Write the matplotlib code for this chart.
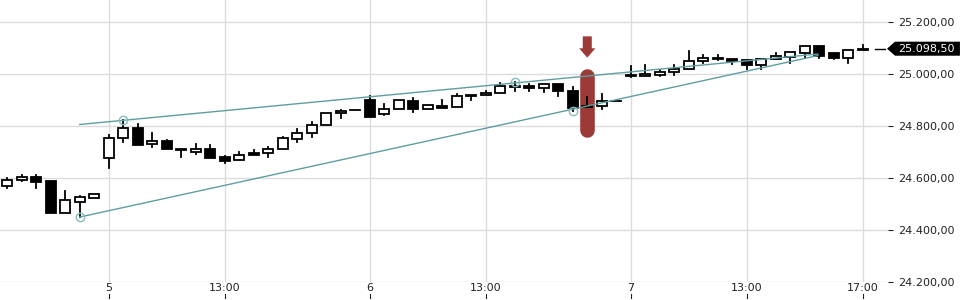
import matplotlib
matplotlib.use("Agg")
import matplotlib.pyplot as plt
from matplotlib.patches import Rectangle, Polygon

# 30-minute candles, index based x axis
opens = [24569, 24592, 24605, 24590, 24468, 24508, 24523, 24677, 24754, 24793,
         24731, 24743, 24712, 24701, 24712, 24681, 24669, 24698, 24696, 24712,
         24750, 24773, 24804, 24850, 24862, 24901, 24846, 24865, 24897, 24865,
         24878, 24873, 24917, 24919, 24927, 24952, 24956, 24948, 24963, 24935,
         24878, 24877, 24897, 24998, 24993, 24997, 25007, 25022, 25050, 25061,
         25059, 25054, 25037, 25059, 25067, 25082, 25110, 25081, 25063, 25092]
highs = [24600, 24612, 24612, 24590, 24551, 24533, 24538, 24767, 24826, 24808,
         24774, 24747, 24712, 24732, 24728, 24685, 24700, 24709, 24720, 24759,
         24790, 24817, 24850, 24863, 24862, 24917, 24886, 24901, 24908, 24881,
         24900, 24923, 24922, 24936, 24967, 24972, 24963, 24962, 24963, 24950,
         24912, 24923, 24897, 25031, 25035, 25017, 25034, 25088, 25073, 25076,
         25059, 25054, 25060, 25081, 25084, 25110, 25110, 25083, 25092, 25114]
lows = [24564, 24590, 24564, 24468, 24468, 24450, 24523, 24641, 24741, 24729,
        24722, 24712, 24683, 24695, 24679, 24660, 24669, 24688, 24683, 24712,
        24741, 24760, 24804, 24833, 24862, 24837, 24842, 24865, 24856, 24865,
        24871, 24873, 24900, 24919, 24927, 24937, 24937, 24931, 24918, 24858,
        24876, 24867, 24897, 24991, 24993, 24993, 24996, 25022, 25042, 25056,
        25038, 25022, 25020, 25059, 25044, 25064, 25064, 25059, 25045, 25092]
closes = [24592, 24604, 24587, 24468, 24515, 24527, 24538, 24754, 24792, 24729,
          24742, 24712, 24707, 24712, 24679, 24668, 24688, 24691, 24712, 24754,
          24773, 24804, 24850, 24859, 24862, 24837, 24865, 24901, 24865, 24881,
          24871, 24917, 24919, 24929, 24954, 24955, 24948, 24962, 24935, 24872,
          24876, 24896, 24897, 24995, 25001, 25009, 25022, 25050, 25061, 25057,
          25052, 25037, 25057, 25072, 25084, 25110, 25072, 25064, 25092, 25098.5]

tick_pos = [7, 15, 25, 33, 43, 51, 59]
tick_labels = ["5", "13:00", "6", "13:00", "7", "13:00", "17:00"]
y_ticks = [24200, 24400, 24600, 24800, 25000, 25200]

# wedge trendlines (start/end index and price) and touch points
upper_line = ([5, 55.9], [24807, 25078])
lower_line = ([5, 55.9], [24451, 25072])
touch_x = [5, 8, 35, 39]
touch_y = [24451, 24825, 24970, 24860]

mark_idx = 40
last_price = closes[-1]

teal = "#5f9ea0"
red = "#9b3a36"
grid_c = "#dcdcdc"


def de_fmt(v):
    s = f"{v:,.2f}"
    return s.replace(",", "X").replace(".", ",").replace("X", ".")


fig = plt.figure(figsize=(9.6, 3.0), dpi=100)
ax = fig.add_axes([0, 1 - 282.3 / 300, 888 / 960, 282.3 / 300])
ax.set_xlim(-0.503, 60.74)
ax.set_ylim(24200, 25285.8)
for s in ax.spines.values():
    s.set_visible(False)

for y in y_ticks:
    ax.axhline(y, color=grid_c, lw=1, zorder=0)
for x in tick_pos:
    ax.axvline(x, color=grid_c, lw=1, zorder=0)

# highlight bar + arrow on marked candle
ax.plot([mark_idx, mark_idx], [24786, 24993], color=red, lw=10.5,
        solid_capstyle="round", zorder=1)
arrow = Polygon([(mark_idx - 0.31, 25146), (mark_idx + 0.31, 25146),
                 (mark_idx + 0.31, 25100), (mark_idx + 0.56, 25100),
                 (mark_idx, 25064), (mark_idx - 0.56, 25100),
                 (mark_idx - 0.31, 25100)], closed=True, color=red,
                lw=0, zorder=1)
ax.add_patch(arrow)

# candles
w = 0.7
for i, (o, h, l, c) in enumerate(zip(opens, highs, lows, closes)):
    top = max(o, c)
    bot = min(o, c)
    ax.plot([i, i], [l, bot], color="black", lw=1.3, zorder=3)
    ax.plot([i, i], [top, h], color="black", lw=1.3, zorder=3)
    if o == c:
        ax.plot([i - w / 2, i + w / 2], [o, o], color="black", lw=1.3, zorder=3)
    else:
        fc = "white" if c > o else "black"
        ax.add_patch(Rectangle((i - w / 2, bot), w, top - bot, facecolor=fc,
                               edgecolor="black", lw=1.3, zorder=4))

# trendlines
ax.plot(*upper_line, color=teal, lw=1, zorder=5)
ax.plot(*lower_line, color=teal, lw=1, zorder=5)
ax.plot(touch_x, touch_y, "o", ms=6, mfc="none", mec="#86bcbd", mew=1,
        zorder=5)

# axes ticks
ax.yaxis.tick_right()
ax.set_yticks(y_ticks)
ax.set_yticklabels([de_fmt(v) for v in y_ticks])
ax.tick_params(axis="y", length=3.6, width=0.8, pad=3.6, colors="#222222",
               labelsize=8)
ax.set_xticks([])
for x, lab in zip(tick_pos, tick_labels):
    ax.annotate(lab, xy=(x, 0), xycoords=("data", "axes fraction"),
                xytext=(0, -6), textcoords="offset pixels", ha="center",
                va="center", fontsize=8, color="#222222",
                family=["Liberation Sans Narrow", "DejaVu Sans"])
    ax.annotate("", xy=(x, 0), xycoords=("data", "axes fraction"))
    ax.plot([x, x], [24155, 24140], color="#222222", lw=0.8, clip_on=False)

# last price marker
yt = ax.get_yaxis_transform()
ax.plot([0.985, 0.997], [last_price, last_price], color="black", lw=1,
        transform=yt, clip_on=False)
ax.add_patch(Polygon([(0.9989, last_price), (1.0079, last_price + 27),
                      (1.081, last_price + 27), (1.081, last_price - 27),
                      (1.0079, last_price - 27)], closed=True,
                     facecolor="black", lw=0, transform=yt, clip_on=False))
ax.text(1.0113, last_price, de_fmt(last_price), transform=yt, color="white",
        fontsize=8, va="center", ha="left")

fig.savefig("out.png", dpi=100)
